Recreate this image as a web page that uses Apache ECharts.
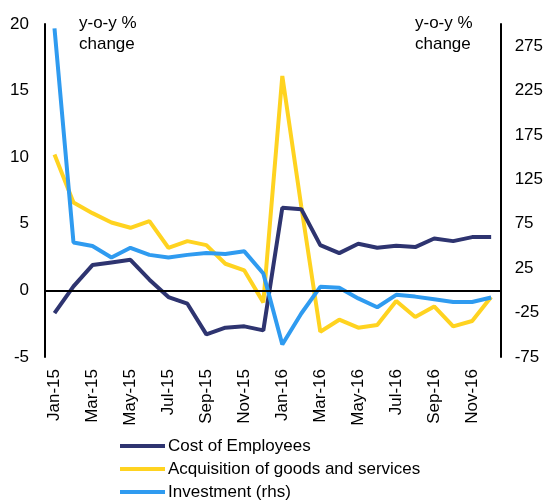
<!DOCTYPE html>
<html>
<head>
<meta charset="utf-8">
<script src="https://cdn.jsdelivr.net/npm/echarts@6/dist/echarts.min.js"></script>
<style>
  html, body { margin: 0; padding: 0; background: #fff; }
  #main { width: 546px; height: 501px; }
</style>
</head>
<body>
<div id="main"></div>
<script>
// 月份
var months = ['Jan-15','Feb-15','Mar-15','Apr-15','May-15','Jun-15','Jul-15','Aug-15','Sep-15','Oct-15','Nov-15','Dec-15',
              'Jan-16','Feb-16','Mar-16','Apr-16','May-16','Jun-16','Jul-16','Aug-16','Sep-16','Oct-16','Nov-16','Dec-16'];
// y-o-y % change, left axis
var costOfEmployees = [-1.7, 0.3, 1.9, 2.1, 2.3, 0.8, -0.5, -1.0, -3.3, -2.8, -2.7, -3.0,
                       6.2, 6.1, 3.4, 2.8, 3.5, 3.2, 3.35, 3.25, 3.9, 3.7, 4.0, 4.0];
var acquisition = [10.2, 6.6, 5.8, 5.1, 4.7, 5.2, 3.2, 3.7, 3.4, 2.0, 1.5, -0.9,
                   16.1, 6.3, -3.1, -2.2, -2.8, -2.6, -0.8, -2.0, -1.2, -2.7, -2.3, -0.5];
// right axis
var investment = [295, 54, 50, 37, 48, 40, 37, 40, 42, 41, 44, 19,
                  -61, -26, 4, 3, -9, -19, -5, -7, -10, -13, -13, -8];
var seriesNames = ['Cost of Employees', 'Acquisition of goods and services', 'Investment (rhs)'];
var colors = ['#2e3470', '#ffd320', '#2f9bf0'];

var myChart = echarts.init(document.getElementById('main'));
var font = 'Liberation Sans, Arial, sans-serif';

var option = {
    animation: false,
    color: colors,
    textStyle: { fontFamily: font, color: '#000' },
    grid: { left: 45, right: 44, top: 24, bottom: 144 },
    legend: {
        orient: 'vertical',
        left: 120,
        top: 436,
        width: 420,
        height: 80,
        padding: 0,
        itemWidth: 45,
        itemHeight: 4,
        itemGap: 3,
        icon: 'rect',
        textStyle: { fontSize: 17, fontFamily: font, color: '#000', lineHeight: 20, padding: [0, 0, 0, -2] },
        data: seriesNames
    },
    graphic: [
        { type: 'text', left: 79, top: 13, style: { text: 'y-o-y %\nchange', font: '17px ' + font, fill: '#000', lineHeight: 21 } },
        { type: 'text', left: 415, top: 13, style: { text: 'y-o-y %\nchange', font: '17px ' + font, fill: '#000', lineHeight: 21 } }
    ],
    xAxis: {
        type: 'category',
        data: months,
        boundaryGap: true,
        axisLine: { show: false },
        axisTick: { show: false },
        axisLabel: { interval: 1, rotate: 90, fontSize: 17, color: '#000', margin: 12 }
    },
    yAxis: [{
        type: 'value',
        min: -5, max: 20, interval: 5,
        axisLine: { show: true, lineStyle: { color: '#000', width: 2 } },
        axisTick: { show: false },
        splitLine: { show: false },
        axisLabel: { fontSize: 17, color: '#000', margin: 16 }
    }, {
        type: 'value',
        min: -75, max: 300, interval: 50,
        axisLine: { show: true, lineStyle: { color: '#000', width: 2 } },
        axisTick: { show: false },
        splitLine: { show: false },
        axisLabel: { fontSize: 17, color: '#000', margin: 14, showMaxLabel: false,
            formatter: function (v) { return v === 300 ? '' : v; } }
    }],
    series: [{
        name: seriesNames[0],
        type: 'line',
        data: costOfEmployees,
        symbol: 'none',
        lineStyle: { width: 4, color: colors[0] },
        z: 3,
        markLine: {
            silent: true,
            symbol: 'none',
            label: { show: false },
            lineStyle: { color: '#000', width: 2, type: 'solid' },
            data: [{ yAxis: 0 }]
        }
    }, {
        name: seriesNames[1],
        type: 'line',
        data: acquisition,
        symbol: 'none',
        lineStyle: { width: 4, color: colors[1] },
        z: 2
    }, {
        name: seriesNames[2],
        type: 'line',
        yAxisIndex: 1,
        data: investment,
        symbol: 'none',
        lineStyle: { width: 4, color: colors[2] },
        z: 4
    }]
};
myChart.setOption(option);
</script>
</body>
</html>
